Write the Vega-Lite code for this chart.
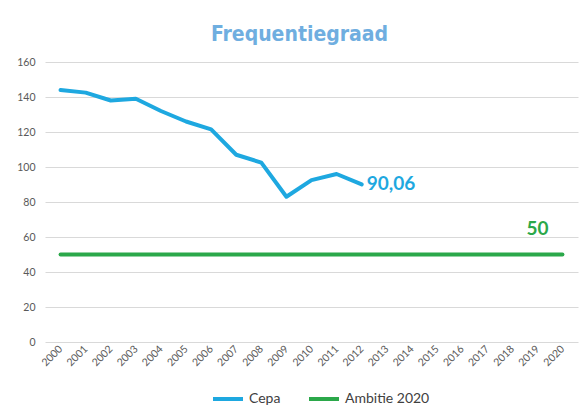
{
  "$schema": "https://vega.github.io/schema/vega-lite/v6.json",
  "width": 533,
  "height": 280,
  "autosize": {"type": "none"},
  "padding": {"left": 45, "top": 62, "right": 5, "bottom": 68},
  "background": "white",
  "title": {
    "text": "Frequentiegraad",
    "font": "DejaVu Sans Condensed",
    "fontSize": 21,
    "fontWeight": "bold",
    "color": "#6FAEE0",
    "anchor": "middle",
    "offset": 12,
    "dx": -12
  },
  "data": {
    "values": [
      {"year": "2000", "value": 144, "series": "Cepa"},
      {"year": "2001", "value": 142.5, "series": "Cepa"},
      {"year": "2002", "value": 138, "series": "Cepa"},
      {"year": "2003", "value": 139, "series": "Cepa"},
      {"year": "2004", "value": 132, "series": "Cepa"},
      {"year": "2005", "value": 126, "series": "Cepa"},
      {"year": "2006", "value": 121.5, "series": "Cepa"},
      {"year": "2007", "value": 107, "series": "Cepa"},
      {"year": "2008", "value": 102.5, "series": "Cepa"},
      {"year": "2009", "value": 83, "series": "Cepa"},
      {"year": "2010", "value": 92.5, "series": "Cepa"},
      {"year": "2011", "value": 96, "series": "Cepa"},
      {"year": "2012", "value": 90.06, "series": "Cepa", "label": "90,06"},
      {"year": "2000", "value": 50, "series": "Ambitie 2020"},
      {"year": "2020", "value": 50, "series": "Ambitie 2020", "label": "50"}
    ]
  },
  "encoding": {
    "x": {
      "field": "year",
      "type": "ordinal",
      "scale": {"type": "point", "padding": 0.62, "domain": ["2000","2001","2002","2003","2004","2005","2006","2007","2008","2009","2010","2011","2012","2013","2014","2015","2016","2017","2018","2019","2020"]},
      "axis": {"title": null, "labelAngle": -45, "labelAlign": "right", "labelBaseline": "middle", "ticks": false, "domain": false, "grid": false, "labelPadding": 5, "labelFontSize": 10.5, "labelColor": "#595959", "labelFont": "Lato"}
    },
    "y": {
      "field": "value",
      "type": "quantitative",
      "scale": {"domain": [0, 160]},
      "axis": {"title": null, "values": [0,20,40,60,80,100,120,140,160], "ticks": false, "domain": false, "gridColor": "#D9D9D9", "gridWidth": 1, "labelPadding": 10, "labelFontSize": 10.5, "labelColor": "#595959", "labelFont": "Lato"}
    },
    "color": {
      "field": "series",
      "type": "nominal",
      "scale": {"domain": ["Cepa", "Ambitie 2020"], "range": ["#1EA8E0", "#2BA84A"]},
      "legend": {"title": null, "orient": "none", "legendX": 166, "legendY": 320, "direction": "horizontal", "symbolType": "stroke", "symbolStrokeWidth": 4, "symbolSize": 900, "labelFont": "Lato", "labelFontSize": 14, "labelColor": "#404040", "columnPadding": 20}
    }
  },
  "layer": [
    {
      "mark": {"type": "line", "strokeWidth": 4, "strokeCap": "round", "strokeJoin": "round"}
    },
    {
      "transform": [{"filter": "datum.series == 'Cepa' && datum.label"}],
      "mark": {"type": "text", "align": "left", "baseline": "middle", "dx": 5, "fontSize": 19, "fontWeight": "bold", "font": "Lato"},
      "encoding": {"text": {"field": "label"}}
    },
    {
      "transform": [{"filter": "datum.series == 'Ambitie 2020' && datum.label"}],
      "mark": {"type": "text", "align": "right", "baseline": "middle", "dx": -14, "dy": -26, "fontSize": 19, "fontWeight": "bold", "font": "Lato"},
      "encoding": {"text": {"field": "label"}}
    }
  ],
  "config": {"view": {"stroke": null}}
}
